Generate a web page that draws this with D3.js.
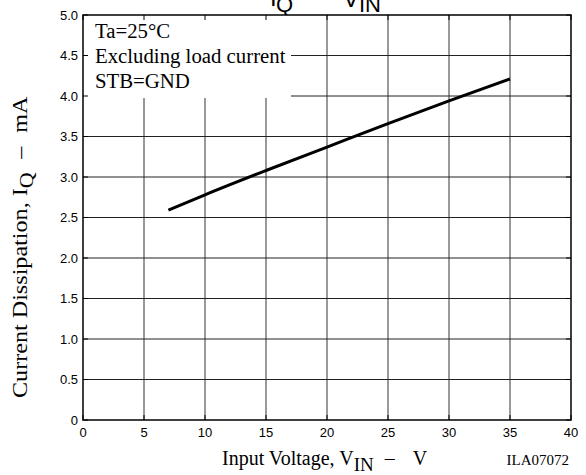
<!DOCTYPE html>
<html>
<head>
<meta charset="utf-8">
<script src="https://cdn.jsdelivr.net/npm/d3@7/dist/d3.min.js"></script>
<style>
  html, body { margin: 0; padding: 0; background: #fff; }
  svg { display: block; }
</style>
</head>
<body>
<svg id="chart" width="586" height="475"></svg>
<script>
// ---- data ----
const vinValues = [7, 10, 15, 20, 25, 30, 35];
const iqValues  = [2.59, 2.78, 3.08, 3.37, 3.66, 3.94, 4.21];
const xTicks = [0, 5, 10, 15, 20, 25, 30, 35, 40];
const yTicks = [0, 0.5, 1.0, 1.5, 2.0, 2.5, 3.0, 3.5, 4.0, 4.5, 5.0];
const legendLines = ["Ta=25°C", "Excluding load current", "STB=GND"];

const svg = d3.select("#chart");
const serif = "'Liberation Serif', 'Times New Roman', serif";
const sans = "'Liberation Sans', Arial, Helvetica, sans-serif";

const L = 83, R = 571, T = 15, B = 420;
const x = d3.scaleLinear().domain([0, 40]).range([L, R]);
const y = d3.scaleLinear().domain([0, 5]).range([B, T]);

// clipped title at top
const title = svg.append("text").attr("font-family", sans).attr("font-size", 24).attr("fill", "#000");
title.append("tspan").attr("x", 270).attr("y", 6).text("I");
title.append("tspan").attr("x", 276).attr("y", 12).attr("font-size", 22).text("Q");
title.append("tspan").attr("x", 316).attr("y", 4).text("–");
title.append("tspan").attr("x", 343).attr("y", 7).text("V");
title.append("tspan").attr("x", 359).attr("y", 12).attr("font-size", 22).text("IN");

// grid
const g = svg.append("g");
g.selectAll("line.vg").data(xTicks.filter(d => d > 0 && d < 40)).enter().append("line")
  .attr("x1", d => x(d)).attr("x2", d => x(d)).attr("y1", T).attr("y2", B)
  .attr("stroke", "#555").attr("stroke-width", 1.2);
g.selectAll("line.hg").data(yTicks.filter(d => d > 0 && d < 5)).enter().append("line")
  .attr("x1", L).attr("x2", R).attr("y1", d => y(d)).attr("y2", d => y(d))
  .attr("stroke", "#222").attr("stroke-width", 1);

// data line
const line = d3.line().x((d, i) => x(vinValues[i])).y(d => y(d)).curve(d3.curveMonotoneX);
svg.append("path").datum(iqValues).attr("d", line)
  .attr("fill", "none").attr("stroke", "#000").attr("stroke-width", 3);

// legend box (white, covers grid)
svg.append("rect").attr("x", L).attr("y", T).attr("width", 208).attr("height", 83).attr("fill", "#fff");
svg.append("g").selectAll("text").data(legendLines).enter().append("text")
  .attr("x", 95).attr("y", (d, i) => 38 + i * 25)
  .attr("font-family", serif).attr("font-size", 20).attr("fill", "#000")
  .attr("transform", "translate(95,0) scale(1.04,1) translate(-95,0)")
  .text(d => d);

// inner ticks on all sides
const tk = svg.append("g").attr("stroke", "#000").attr("stroke-width", 1);
tk.selectAll("line.tt").data(xTicks).enter().append("line")
  .attr("x1", d => x(d)).attr("x2", d => x(d)).attr("y1", T).attr("y2", T + 5);
tk.selectAll("line.tb").data(xTicks).enter().append("line")
  .attr("x1", d => x(d)).attr("x2", d => x(d)).attr("y1", B).attr("y2", B - 5);
tk.selectAll("line.tl").data(yTicks).enter().append("line")
  .attr("x1", L).attr("x2", L + 5).attr("y1", d => y(d)).attr("y2", d => y(d));
tk.selectAll("line.tr").data(yTicks).enter().append("line")
  .attr("x1", R).attr("x2", R - 5).attr("y1", d => y(d)).attr("y2", d => y(d));

// frame
svg.append("rect").attr("x", L).attr("y", T).attr("width", R - L).attr("height", B - T)
  .attr("fill", "none").attr("stroke", "#000").attr("stroke-width", 1.5);

// tick labels
svg.append("g").selectAll("text").data(xTicks).enter().append("text")
  .attr("x", d => x(d)).attr("y", 437).attr("text-anchor", "middle")
  .attr("font-family", sans).attr("font-size", 13).text(d => d);
svg.append("g").selectAll("text").data(yTicks).enter().append("text")
  .attr("x", 78).attr("y", d => y(d) + 4.5).attr("text-anchor", "end")
  .attr("font-family", sans).attr("font-size", 13).text(d => d === 0 ? "0" : d.toFixed(1));

// x axis label
const xl = svg.append("text").attr("x", 222).attr("y", 465)
  .attr("font-family", serif).attr("font-size", 20).attr("fill", "#000");
xl.append("tspan").text("Input Voltage, V");
xl.append("tspan").attr("dy", 6).attr("font-size", 19).text("IN");
xl.append("tspan").attr("dy", -6).attr("dx", 11).text("–");
xl.append("tspan").attr("dx", 18).text("V");

svg.append("text").attr("x", 569).attr("y", 465).attr("text-anchor", "end")
  .attr("font-family", serif).attr("font-size", 15).text("ILA07072");

// y axis label
const yl = svg.append("text").attr("transform", "translate(27,398) rotate(-90) scale(1.15,1)")
  .attr("font-family", serif).attr("font-size", 21).attr("fill", "#000");
yl.append("tspan").text("Current Dissipation, I");
yl.append("tspan").attr("dy", 6).attr("font-size", 19).text("Q");
yl.append("tspan").attr("dy", -6).attr("dx", 12).text("–");
yl.append("tspan").attr("dx", 12).text("mA");
</script>
</body>
</html>
